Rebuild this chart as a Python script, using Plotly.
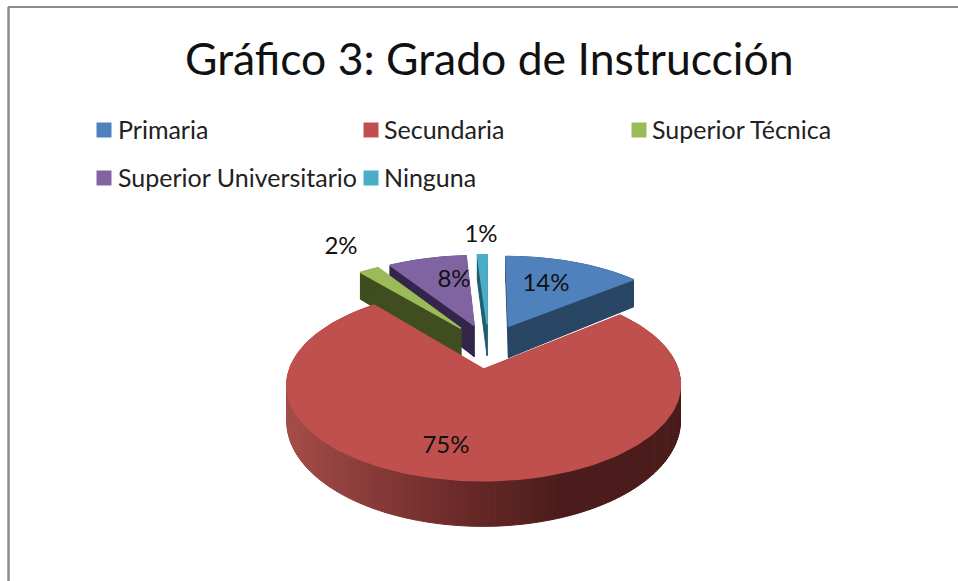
import math
import plotly.graph_objects as go

titulo = "Gráfico 3: Grado de Instrucción"
categorias = ["Primaria", "Secundaria", "Superior Técnica", "Superior Universitario", "Ninguna"]
valores = [14, 75, 2, 8, 1]

colores = ["#4f81bd", "#c0504d", "#9bbb59", "#8064a2", "#4bacc6"]
colores_lado = ["#2a4665", "#6e2c2b", "#3f4d20", "#33264a", "#1f5e70"]

# layout positions, in page pixels
pos_leyenda = [(104, 130), (371, 130), (639, 130), (104, 178), (371, 178)]
pos_texto = [(118, 133), (384, 133), (652, 133), (118, 181), (384, 181)]
pos_etiqueta = [(546, 285), (446, 447), (341, 248), (454, 281), (481, 236)]

# projection of the tilted pie
CX, CY = 488.5, 346
A, B = 186.5, 86.3
K = 0.154
EXPLODE = 0.26
DEPTH = 33
FUENTE = "Lato"

# shading of the red wall, left to right
rampa = [(286, (166, 77, 74)), (350, (143, 64, 61)), (450, (110, 44, 43)), (560, (76, 29, 27)), (682, (74, 28, 27))]


def proyecta(u, v, bajo=False):
    den = 1 + K * v
    x = CX + A * u / den
    y = CY - B * v / den
    if bajo:
        y += DEPTH / den ** 1.5
    return x, y


def color_rampa(x):
    for (x0, c0), (x1, c1) in zip(rampa, rampa[1:]):
        if x <= x1:
            t = max(0, (x - x0) / (x1 - x0))
            return "rgb(%d,%d,%d)" % tuple(c0[i] + t * (c1[i] - c0[i]) for i in range(3))
    return "rgb(%d,%d,%d)" % rampa[-1][1]


def poligono(puntos, color, ancho=0.5):
    return go.Scatter(
        x=[p[0] for p in puntos] + [puntos[0][0]],
        y=[p[1] for p in puntos] + [puntos[0][1]],
        mode="lines",
        fill="toself",
        fillcolor=color,
        line=dict(color=color, width=ancho),
        hoverinfo="skip",
        showlegend=False,
    )


fig = go.Figure()

total = sum(valores)
inicio = 0
sectores = []
for i, valor in enumerate(valores):
    fin = inicio + valor / total * 2 * math.pi
    sectores.append((i, inicio, fin))
    inicio = fin

# painter's order: back slices first, the big front slice last
for i, ini, fin in sorted(sectores, key=lambda s: math.cos((s[1] + s[2]) / 2), reverse=True):
    medio = (ini + fin) / 2
    ou, ov = EXPLODE * math.sin(medio), EXPLODE * math.cos(medio)
    n = max(4, int((fin - ini) * 40))
    angulos = [ini + (fin - ini) * j / n for j in range(n + 1)]
    borde = [(ou + math.sin(a), ov + math.cos(a)) for a in angulos]

    # walls
    contorno = [(ou, ov)] + borde + [(ou, ov)]
    for (u0, v0), (u1, v1) in zip(contorno, contorno[1:]):
        p0, p1 = proyecta(u0, v0), proyecta(u1, v1)
        q0, q1 = proyecta(u0, v0, True), proyecta(u1, v1, True)
        if i == 1:
            color = color_rampa((p0[0] + p1[0]) / 2)
        else:
            color = colores_lado[i]
        fig.add_trace(poligono([p0, p1, q1, q0], color, 1))

    # top face, its outline covers the wall strokes at the rim
    fig.add_trace(poligono([proyecta(ou, ov)] + [proyecta(u, v) for u, v in borde], colores[i], 1.5))

# value labels
fig.add_trace(go.Scatter(
    x=[p[0] for p in pos_etiqueta],
    y=[p[1] for p in pos_etiqueta],
    mode="text",
    text=["%d%%" % v for v in valores],
    textposition="middle center",
    textfont=dict(family=FUENTE, size=24, color="#111111"),
    hoverinfo="skip",
    showlegend=False,
))

# legend
fig.add_trace(go.Scatter(
    x=[p[0] for p in pos_leyenda],
    y=[p[1] for p in pos_leyenda],
    mode="markers",
    marker=dict(symbol="square", size=15, color=colores, line=dict(width=0)),
    hoverinfo="skip",
    showlegend=False,
))
fig.add_trace(go.Scatter(
    x=[p[0] for p in pos_texto],
    y=[p[1] for p in pos_texto],
    mode="text",
    text=categorias,
    textposition="middle right",
    textfont=dict(family=FUENTE, size=25, color="#222222"),
    hoverinfo="skip",
    showlegend=False,
))

fig.add_annotation(
    x=489, y=57, text=titulo, showarrow=False,
    font=dict(family=FUENTE, size=44.5, color="#111111"),
)

# chart frame, only top and left are in view
fig.add_shape(type="line", x0=8, y0=7, x1=958, y1=7, line=dict(color="#8c8c8c", width=2))
fig.add_shape(type="line", x0=8.5, y0=7, x1=8.5, y1=581, line=dict(color="#8c8c8c", width=2.5))

fig.update_layout(
    width=958,
    height=581,
    margin=dict(l=0, r=0, t=0, b=0),
    paper_bgcolor="white",
    plot_bgcolor="white",
    showlegend=False,
    xaxis=dict(range=[0, 958], visible=False, fixedrange=True),
    yaxis=dict(range=[581, 0], visible=False, fixedrange=True),
)

fig.write_html("out.html", config=dict(displayModeBar=False),
               post_script="document.body.style.margin='0';document.documentElement.style.overflow='hidden';")
